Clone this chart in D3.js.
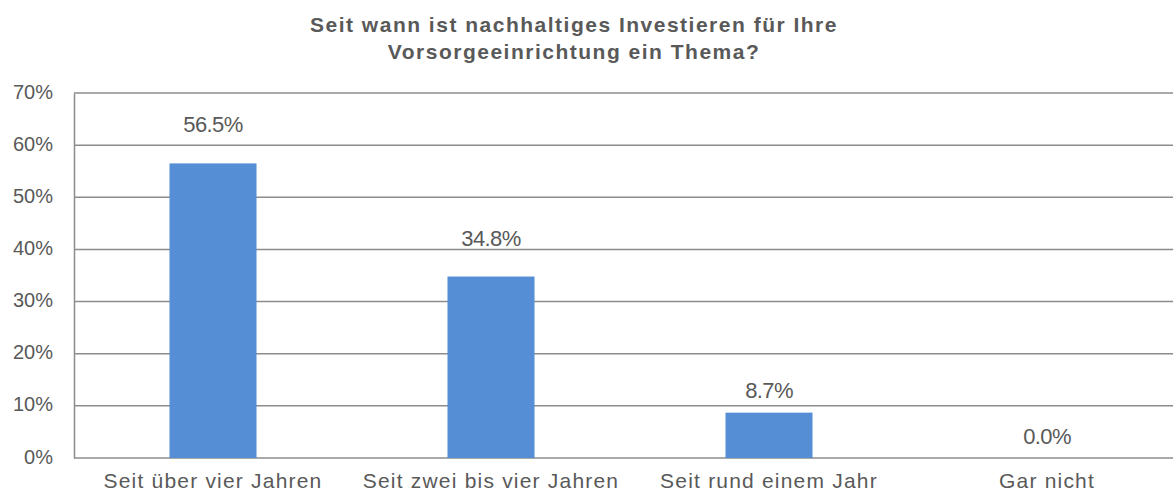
<!DOCTYPE html>
<html>
<head>
<meta charset="utf-8">
<script src="https://cdn.jsdelivr.net/npm/d3@7"></script>
<style>
  body { margin: 0; background: #fff; }
  svg { display: block; font-family: "Liberation Sans", Arial, sans-serif; }
</style>
</head>
<body>
<svg id="chart"></svg>
<script>
// Data
const categories = ['Seit über vier Jahren', 'Seit zwei bis vier Jahren', 'Seit rund einem Jahr', 'Gar nicht'];
const values = [56.5, 34.8, 8.7, 0.0];
const yTicks = [0, 10, 20, 30, 40, 50, 60, 70];
const titleLines = ['Seit wann ist nachhaltiges Investieren für Ihre', 'Vorsorgeeinrichtung ein Thema?'];

// Dimensions
const width = 1173;
const height = 495;
const margin = { top: 93, right: -13, bottom: 37, left: 74 };
const textColor = '#595959';
const gridColor = '#8c8c8c';
const barColor = '#558ed5';
// label gap above bar top (the original places the lower labels closer)
const labelGap = [31, 31, 15, 14];

const svg = d3.select('#chart')
    .attr('width', width)
    .attr('height', height);

const x = d3.scaleBand()
    .domain(categories)
    .range([margin.left, width - margin.right])
    .paddingInner(0.687)
    .paddingOuter(0.3435);

const y = d3.scaleLinear()
    .domain([0, 70])
    .range([height - margin.bottom, margin.top]);

// Title
svg.append('text')
    .attr('x', 574)
    .attr('y', 32)
    .attr('text-anchor', 'middle')
    .attr('fill', textColor)
    .style('font-weight', 'bold')
    .style('font-size', '21px')
    .style('letter-spacing', '1.5px')
    .selectAll('tspan')
    .data(titleLines)
    .enter()
    .append('tspan')
    .attr('x', 574)
    .attr('dy', (d, i) => i === 0 ? 0 : 27)
    .text(d => d);

// Gridlines
svg.append('g')
    .selectAll('line')
    .data(yTicks)
    .enter()
    .append('line')
    .attr('x1', margin.left)
    .attr('x2', width)
    .attr('y1', d => y(d))
    .attr('y2', d => y(d))
    .attr('stroke', gridColor)
    .attr('stroke-width', 1.5);

// Y axis
const yAxis = svg.append('g')
    .attr('transform', `translate(${margin.left},0)`)
    .call(d3.axisLeft(y).tickValues(yTicks).tickSize(0).tickPadding(21).tickFormat(d => d + '%'));
yAxis.select('.domain').attr('stroke', gridColor).attr('stroke-width', 1.5);
yAxis.selectAll('text')
    .attr('fill', textColor)
    .attr('dy', '0.25em')
    .style('font-size', '20px')
    .style('font-family', '"Liberation Sans", Arial, sans-serif');

// Bars
svg.append('g')
    .selectAll('rect')
    .data(values)
    .enter()
    .append('rect')
    .attr('x', (d, i) => x(categories[i]))
    .attr('y', d => y(d))
    .attr('width', x.bandwidth())
    .attr('height', d => y(0) - y(d))
    .attr('fill', barColor);

// Value labels
svg.append('g')
    .selectAll('text')
    .data(values)
    .enter()
    .append('text')
    .attr('x', (d, i) => x(categories[i]) + x.bandwidth() / 2)
    .attr('y', (d, i) => y(d) - labelGap[i])
    .attr('text-anchor', 'middle')
    .attr('fill', textColor)
    .style('font-size', '22px')
    .style('letter-spacing', '-0.6px')
    .text(d => d.toFixed(1) + '%');

// X axis labels
const xAxis = svg.append('g')
    .attr('transform', `translate(0,${y(0)})`)
    .call(d3.axisBottom(x).tickSize(0).tickPadding(15));
xAxis.select('.domain').remove();
xAxis.selectAll('text')
    .attr('fill', textColor)
    .style('font-size', '21px')
    .style('letter-spacing', '1.2px')
    .style('font-family', '"Liberation Sans", Arial, sans-serif');
</script>
</body>
</html>
